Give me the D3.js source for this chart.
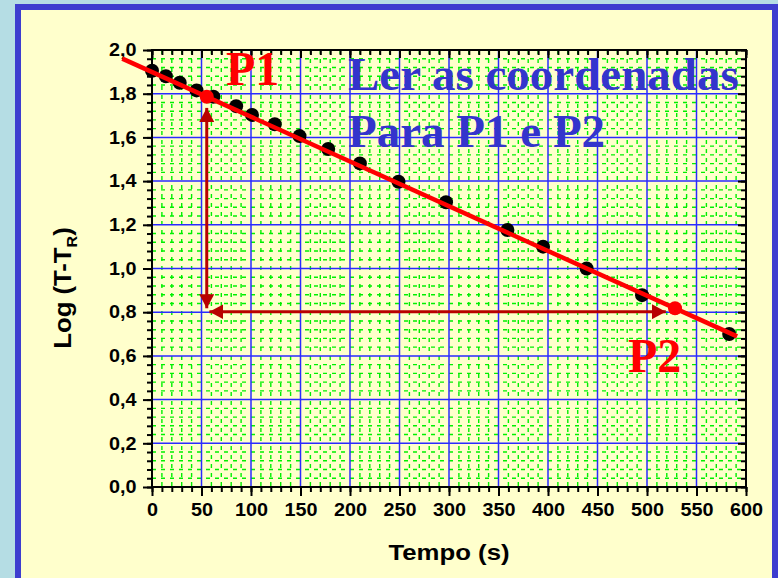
<!DOCTYPE html>
<html>
<head>
<meta charset="utf-8">
<script src="https://cdn.jsdelivr.net/npm/d3@7"></script>
<style>
  body { margin: 0; background: #b5dde4; }
  svg { display: block; }
</style>
</head>
<body>
<div id="chart"></div>
<script>
// measured points (tempo in s, log of temperature difference)
var tempo = [0, 14, 28, 45, 62, 85, 101, 124, 149, 178, 210, 249, 297, 359, 395, 439, 495, 583];
var logDT = [1.905, 1.88, 1.85, 1.815, 1.786, 1.743, 1.703, 1.66, 1.606, 1.547, 1.481, 1.397, 1.303, 1.176, 1.10, 1.0, 0.878, 0.70];

// fitted straight line: y = a + b*x
var ajusteA = 1.899;
var ajusteB = -0.002047;
var ajusteX = [-30, 591];

// the two points
var pontoNomes = ["P1", "P2"];
var pontoX = [55.3, 528.3];
var pontoY = [1.786, 0.818];

// arrows (start x, start y, end x, end y)
var setaX1 = [55.3, 519];
var setaY1 = [1.735, 0.802];
var setaX2 = [55.3, 58];
var setaY2 = [0.818, 0.802];

var xTicks = [0, 50, 100, 150, 200, 250, 300, 350, 400, 450, 500, 550, 600];
var yTicks = [0, 0.2, 0.4, 0.6, 0.8, 1.0, 1.2, 1.4, 1.6, 1.8, 2.0];
var yTickLabels = ["0,0", "0,2", "0,4", "0,6", "0,8", "1,0", "1,2", "1,4", "1,6", "1,8", "2,0"];

var svgWidth = 778;
var svgHeight = 578;

var svg = d3.select("#chart")
  .append("svg")
  .attr("width", svgWidth)
  .attr("height", svgHeight);

// panel with blue frame
svg.append("rect")
  .attr("x", 18).attr("y", 7)
  .attr("width", 757).attr("height", 620)
  .attr("fill", "#ffffcc")
  .attr("stroke", "#3d3dcf")
  .attr("stroke-width", 6);

var x = d3.scaleLinear().domain([0, 600]).range([152, 746]);
var y = d3.scaleLinear().domain([0, 2]).range([487, 50]);

var minorX = d3.range(10, 600, 10).filter(function(v) { return v % 50 !== 0; });
var minorY = d3.range(1, 50).filter(function(i) { return i % 5 !== 0; }).map(function(i) { return i * 0.04; });

// green dashed minor grid
var grid = svg.append("g");
grid.selectAll("line.mx")
  .data(minorX)
  .enter().append("line")
  .attr("x1", d => x(d)).attr("x2", d => x(d))
  .attr("y1", y(2)).attr("y2", y(0))
  .attr("stroke", "#00f000").attr("stroke-width", 1.4)
  .attr("stroke-dasharray", "4,5");
grid.selectAll("line.my")
  .data(minorY)
  .enter().append("line")
  .attr("y1", d => y(d)).attr("y2", d => y(d))
  .attr("x1", x(0)).attr("x2", x(600))
  .attr("stroke", "#00f000").attr("stroke-width", 1.4)
  .attr("stroke-dasharray", "4,5");

// blue major grid
grid.selectAll("line.gx")
  .data(xTicks.slice(1, -1))
  .enter().append("line")
  .attr("x1", d => x(d)).attr("x2", d => x(d))
  .attr("y1", y(2)).attr("y2", y(0))
  .attr("stroke", "#2a2aff").attr("stroke-width", 1.5);
grid.selectAll("line.gy")
  .data(yTicks.slice(1, -1))
  .enter().append("line")
  .attr("y1", d => y(d)).attr("y2", d => y(d))
  .attr("x1", x(0)).attr("x2", x(600))
  .attr("stroke", "#2a2aff").attr("stroke-width", 1.5);

// axes: major + minor ticks on all four sides
function styleAxis(g) {
  g.select(".domain").remove();
  g.selectAll(".tick line").attr("stroke", "#000").attr("stroke-width", 2);
}
var xMinorAll = d3.range(0, 601, 10);
var yMinorAll = d3.range(0, 51).map(function(i) { return i * 0.04; });

svg.append("g").attr("transform", `translate(0,${y(0)})`)
  .call(d3.axisBottom(x).tickValues(xMinorAll).tickSize(5).tickFormat(""))
  .call(styleAxis);
var xAxisG = svg.append("g").attr("transform", `translate(0,${y(0)})`)
  .call(d3.axisBottom(x).tickValues(xTicks).tickSize(9).tickPadding(7).tickFormat(d3.format("d")))
  .call(styleAxis);
svg.append("g").attr("transform", `translate(0,${y(2)})`)
  .call(d3.axisTop(x).tickValues(xMinorAll).tickSize(-5).tickFormat(""))
  .call(styleAxis);
svg.append("g").attr("transform", `translate(0,${y(2)})`)
  .call(d3.axisTop(x).tickValues(xTicks).tickSize(-8).tickFormat(""))
  .call(styleAxis);

svg.append("g").attr("transform", `translate(${x(0)},0)`)
  .call(d3.axisLeft(y).tickValues(yMinorAll).tickSize(5).tickFormat(""))
  .call(styleAxis);
var yAxisG = svg.append("g").attr("transform", `translate(${x(0)},0)`)
  .call(d3.axisLeft(y).tickValues(yTicks).tickSize(9).tickPadding(5)
    .tickFormat(function(d, i) { return yTickLabels[i]; }))
  .call(styleAxis);
svg.append("g").attr("transform", `translate(${x(600)},0)`)
  .call(d3.axisRight(y).tickValues(yMinorAll).tickSize(-5).tickFormat(""))
  .call(styleAxis);
svg.append("g").attr("transform", `translate(${x(600)},0)`)
  .call(d3.axisRight(y).tickValues(yTicks).tickSize(-8).tickFormat(""))
  .call(styleAxis);

[xAxisG, yAxisG].forEach(function(g) {
  g.selectAll(".tick text")
    .attr("fill", "#000")
    .attr("font-family", "Arial, 'Liberation Sans', sans-serif")
    .attr("font-weight", "bold")
    .attr("font-size", 18)
    .attr("transform", "scale(1.1,1)");
});

// plot frame
svg.append("rect")
  .attr("x", x(0)).attr("y", y(2))
  .attr("width", x(600) - x(0)).attr("height", y(0) - y(2))
  .attr("fill", "none").attr("stroke", "#000").attr("stroke-width", 2);

// axis titles
svg.append("text")
  .attr("transform", `translate(${(x(0) + x(600)) / 2},560) scale(1.12,1)`)
  .attr("text-anchor", "middle")
  .attr("font-family", "Arial, 'Liberation Sans', sans-serif")
  .attr("font-weight", "bold").attr("font-size", 23)
  .text("Tempo (s)");

var yTitle = svg.append("text")
  .attr("transform", "translate(71,288) rotate(-90) scale(1.07,1)")
  .attr("text-anchor", "middle")
  .attr("font-family", "Arial, 'Liberation Sans', sans-serif")
  .attr("font-weight", "bold").attr("font-size", 24);
yTitle.append("tspan").text("Log (T-T");
yTitle.append("tspan").attr("dy", 6).attr("font-size", 15).text("R");
yTitle.append("tspan").attr("dy", -6).text(")");

// data points
svg.append("g").selectAll("circle")
  .data(tempo)
  .enter().append("circle")
  .attr("cx", d => x(d))
  .attr("cy", (d, i) => y(logDT[i]))
  .attr("r", 7)
  .attr("fill", "#000");

// fitted line
svg.append("line")
  .attr("x1", x(ajusteX[0])).attr("y1", y(ajusteA + ajusteB * ajusteX[0]))
  .attr("x2", x(ajusteX[1])).attr("y2", y(ajusteA + ajusteB * ajusteX[1]))
  .attr("stroke", "#ff0000").attr("stroke-width", 4.5);

// arrows
svg.append("defs").append("marker")
  .attr("id", "ponta")
  .attr("markerUnits", "userSpaceOnUse")
  .attr("viewBox", "0 0 14 15")
  .attr("refX", 14).attr("refY", 7.5)
  .attr("markerWidth", 14).attr("markerHeight", 15)
  .attr("orient", "auto")
  .append("path").attr("d", "M0,0L14,7.5L0,15Z").attr("fill", "#b80000");
// a double-headed arrow: draw from middle outward to both ends
setaX1.forEach(function(d, i) {
  var mx = (setaX1[i] + setaX2[i]) / 2, my = (setaY1[i] + setaY2[i]) / 2;
  [[setaX1[i], setaY1[i]], [setaX2[i], setaY2[i]]].forEach(function(p) {
    svg.append("line")
      .attr("x1", x(mx)).attr("y1", y(my))
      .attr("x2", x(p[0])).attr("y2", y(p[1]))
      .attr("stroke", "#b80000").attr("stroke-width", 3)
      .attr("marker-end", "url(#ponta)");
  });
});

// P1 and P2 dots
svg.append("g").selectAll("circle")
  .data(pontoX)
  .enter().append("circle")
  .attr("cx", d => x(d))
  .attr("cy", (d, i) => y(pontoY[i]))
  .attr("r", 7)
  .attr("fill", "#ff0000");

// annotations
var serif = "'Liberation Serif', 'Times New Roman', serif";
svg.append("text").attr("x", 226).attr("y", 85)
  .attr("font-family", serif).attr("font-weight", "bold").attr("font-size", 48)
  .attr("fill", "#ff0000").text(pontoNomes[0]);
svg.append("text").attr("x", 628).attr("y", 372)
  .attr("font-family", serif).attr("font-weight", "bold").attr("font-size", 48)
  .attr("fill", "#ff0000").text(pontoNomes[1]);
svg.append("text").attr("x", 348).attr("y", 90)
  .attr("font-family", serif).attr("font-weight", "bold").attr("font-size", 47)
  .attr("fill", "#3434cc").text("Ler as coordenadas");
svg.append("text").attr("x", 348).attr("y", 147)
  .attr("font-family", serif).attr("font-weight", "bold").attr("font-size", 47)
  .attr("fill", "#3434cc").text("Para P1 e P2");
</script>
</body>
</html>
